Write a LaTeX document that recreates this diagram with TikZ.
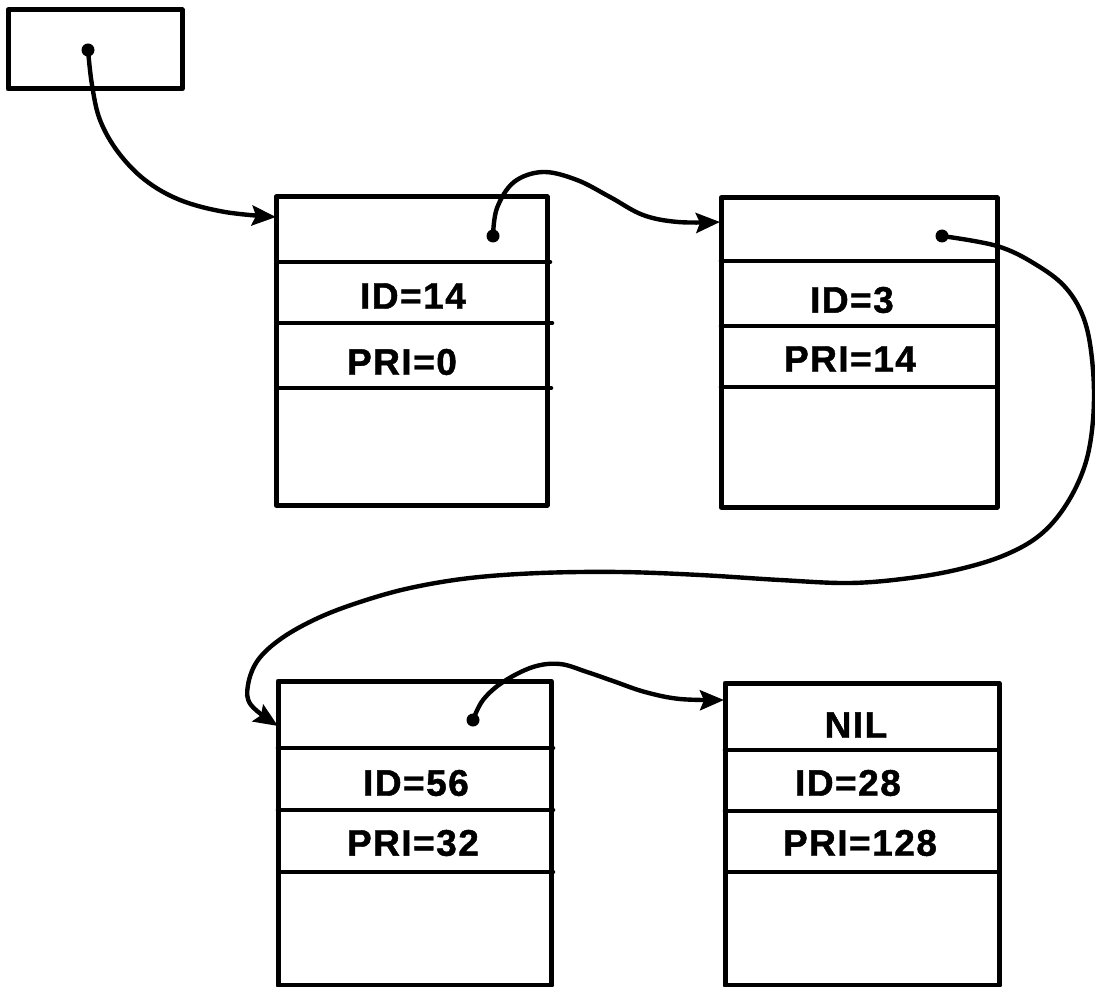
\documentclass[tikz,border=0pt]{standalone}
\usepackage{fontspec}
\setmainfont{Liberation Sans}
\usetikzlibrary{arrows.meta}
\begin{document}
\begin{tikzpicture}[x=1pt,y=-1pt,
  boxline/.style={line width=5pt, line join=round},
  divline/.style={line width=4.6pt, line cap=round},
  link/.style={line width=4.4pt, line cap=round, -{Stealth[length=24pt,width=20pt,inset=4pt]}},
  lbl/.style={font=\fontsize{37}{44}\selectfont\bfseries\addfontfeature{LetterSpace=4,FakeBold=1.2}, inner sep=0pt},
  dot/.style={circle, fill, inner sep=0pt, minimum size=13pt}]
\useasboundingbox (0,0) rectangle (1095,987);

% head pointer box
\draw[boxline] (8,10) rectangle (182,89);
\node[dot] (p0) at (88,50) {};

% box 1
\draw[boxline] (276,197) rectangle (547,505);
\draw[divline] (278,262) -- (550,262);
\draw[divline] (278,323) -- (552,323);
\draw[divline] (278,388) -- (551,388);
\node[lbl] (id1) at (413,296) {ID=14};
\node[lbl] (pr1) at (402,362) {PRI=0};
\node[dot] (p1) at (493,236) {};
\coordinate (t1) at (276,217);

% box 2
\draw[boxline] (721,198) rectangle (997,507);
\draw[divline] (721,261) -- (997,261);
\draw[divline] (721,326) -- (997,326);
\draw[divline] (721,387) -- (997,387);
\node[lbl] (id2) at (852,300) {ID=3};
\node[lbl] (pr2) at (850,359) {PRI=14};
\node[dot] (p2) at (942,236) {};
\coordinate (t2) at (720,222);

% box 3
\draw[boxline] (278,985) -- (278,681) -- (551,681) -- (551,985) -- cycle;
\draw[divline] (278,748) -- (553,748);
\draw[divline] (278,810) -- (553,810);
\draw[divline] (280,872) -- (553,872);
\node[lbl] (id3) at (416,783) {ID=56};
\node[lbl] (pr3) at (413,843) {PRI=32};
\node[dot] (p3) at (473,720) {};
\coordinate (t3) at (278,726);

% box 4
\draw[boxline] (725,985) -- (725,683) -- (999,683) -- (999,985) -- cycle;
\draw[divline] (725,750) -- (999,750);
\draw[divline] (725,811) -- (999,811);
\draw[divline] (727,872) -- (999,872);
\node[lbl] (nil) at (856,725) {NIL};
\node[lbl] (id4) at (848,783) {ID=28};
\node[lbl] (pr4) at (860,843) {PRI=128};
\coordinate (t4) at (724,700);

% connectors
\draw[link] plot[smooth, tension=0.6] coordinates {(p0.center) (92,85) (100,120) (118,152) (145,180) (180,200) (225,212) (t1)};
\draw[link] plot[smooth, tension=0.6] coordinates {(p1.center) (497,208) (514,182) (543,172) (577,180) (610,197) (643,215) (678,222) (t2)};
\draw[link] plot[smooth, tension=0.6] coordinates {(p2.center) (997,246) (1035,264) (1066,288) (1085,322) (1093,370) (1093,420) (1085,465) (1066,505) (1040,535) (1005,555) (960,569) (910,578) (850,583) (780,580) (700,575) (620,572) (540,573) (470,578) (410,588) (360,602) (318,618) (282,638) (258,660) (248,685) (251,705) (t3)};
\draw[link] plot[smooth, tension=0.6] coordinates {(p3.center) (483,700) (503,682) (533,667) (560,664) (587,672) (613,681) (645,692) (680,699) (t4)};
\end{tikzpicture}
\end{document}
